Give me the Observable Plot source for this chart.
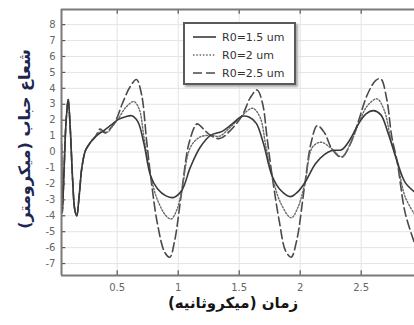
<!DOCTYPE html>
<html>
<head>
<meta charset="utf-8">
<script src="https://cdn.jsdelivr.net/npm/d3@7"></script>
<script src="https://cdn.jsdelivr.net/npm/@observablehq/plot@0.6"></script>
<style>
  html, body { margin: 0; padding: 0; background: #fff; }
  #wrap { position: relative; width: 414px; height: 325px; overflow: hidden; }
  #legend {
    position: absolute; left: 183px; top: 22px; width: 109px; height: 59px;
    border: 2px solid #5a5a5a; background: #fff; box-shadow: 2px 2px 2px #aaa;
    font-family: "DejaVu Sans", sans-serif; font-size: 11px; color: #333;
  }
  .row { position: absolute; left: 8px; height: 14px; display: flex; align-items: center; white-space: nowrap; }
  .row svg { margin-right: 6px; }
  .lbl { position: absolute; font-family: "DejaVu Sans", sans-serif; font-weight: bold; white-space: nowrap; }
  #xlab { left: 0; width: 414px; top: 294px; text-align: center; font-size: 15px; color: #151515; }
  #xlab span { position: relative; left: 26px; }
  #ylab { left: 24px; top: 139px; transform: translate(-50%, -50%) rotate(-90deg); font-size: 16px; color: #1c2650; }
</style>
</head>
<body>
<div id="wrap"></div>
<script>
// ---- data ----
const seriesNames = ["R0=1.5 um", "R0=2 um", "R0=2.5 um"];

const solidT = [0.043,0.05,0.065,0.08,0.098,0.115,0.135,0.152,0.168,0.19,0.21,0.24,0.28,0.32,0.39,0.45,0.51,0.57,0.62,0.67,0.72,0.774,0.83,0.9,0.964,1.03,1.1,1.18,1.265,1.36,1.44,1.525,1.58,1.64,1.7,1.77,1.84,1.92,1.98,2.04,2.125,2.2,2.26,2.34,2.41,2.48,2.54,2.6,2.66,2.72,2.795,2.86,2.937];
const solidR = [0.5,-3.8,-1.0,1.8,3.3,1.5,-1.8,-3.6,-4.0,-2.6,-1.0,0.1,0.6,0.95,1.35,1.7,2.05,2.22,2.28,1.9,0.5,-1.5,-2.3,-2.75,-2.85,-2.4,-0.95,0.3,1.05,1.3,1.75,2.25,2.2,1.8,0.5,-1.5,-2.4,-2.8,-2.5,-1.9,-0.74,-0.15,0.1,0.15,0.8,1.8,2.4,2.6,2.35,1.2,-0.6,-1.9,-2.5];

const dottedT = [0.043,0.05,0.065,0.08,0.098,0.115,0.135,0.152,0.168,0.19,0.21,0.24,0.28,0.32,0.37,0.42,0.46,0.51,0.57,0.636,0.68,0.72,0.774,0.83,0.9,0.943,0.99,1.03,1.1,1.18,1.265,1.34,1.42,1.525,1.61,1.67,1.72,1.77,1.84,1.926,1.98,2.04,2.1,2.17,2.26,2.34,2.41,2.48,2.55,2.63,2.69,2.74,2.795,2.86,2.937];
const dottedR = [0.5,-3.8,-1.0,1.8,3.3,1.5,-1.8,-3.6,-4.0,-2.6,-1.0,0.1,0.6,0.95,1.35,1.25,1.6,2.1,2.8,3.17,2.7,0.9,-1.5,-3.0,-4.0,-4.2,-3.6,-2.4,0.3,0.95,1.05,1.0,1.5,2.3,2.75,2.2,0.3,-1.5,-3.2,-4.13,-3.5,-1.9,0.3,0.62,0.2,-0.3,0.5,1.8,2.9,3.34,2.6,0.9,-0.6,-2.8,-3.9];

const dashedT = [0.043,0.05,0.065,0.08,0.098,0.115,0.135,0.152,0.168,0.19,0.21,0.24,0.28,0.32,0.36,0.40,0.44,0.49,0.54,0.606,0.658,0.7,0.74,0.774,0.83,0.89,0.931,0.97,1.03,1.09,1.155,1.2,1.265,1.34,1.42,1.525,1.59,1.647,1.69,1.73,1.77,1.83,1.88,1.926,1.97,2.04,2.09,2.14,2.2,2.26,2.34,2.41,2.48,2.55,2.62,2.66,2.71,2.75,2.795,2.86,2.937];
const dashedR = [0.5,-3.8,-1.0,1.8,3.3,1.5,-1.8,-3.6,-4.0,-2.6,-1.0,0.1,0.6,0.95,1.45,1.2,1.45,2.0,3.0,4.1,4.55,3.6,0.8,-1.5,-4.5,-6.3,-6.6,-5.6,-2.4,0.6,1.77,1.5,1.05,0.85,1.3,2.3,3.4,3.9,3.1,0.8,-1.5,-4.4,-6.2,-6.6,-5.6,-1.9,0.6,1.66,1.2,0.2,-0.33,0.5,2.0,3.6,4.5,4.6,3.3,1.0,-0.6,-3.8,-5.7];

const xTicks = [0.5, 1, 1.5, 2, 2.5];
const yTicks = [-7,-6,-5,-4,-3,-2,-1,0,1,2,3,4,5,6,7,8];
const xDomain = [0.0434, 2.937];
const yDomain = [-7.75, 8.95];
const xLabel = "زمان (میکروثانیه)";
const yLabel = "شعاع حباب (میکرومتر)";

// ---- build ----
const toRows = (T, R) => T.map((t, i) => ({t, r: R[i]}));
const solid = toRows(solidT, solidR);
const dotted = toRows(dottedT, dottedR);
const dashed = toRows(dashedT, dashedR);

const frameColor = "#7a7a7a";
const tickLenX = 0.035, tickLenY = 0.3;

const chart = Plot.plot({
  width: 414, height: 325,
  marginLeft: 61, marginRight: 0, marginTop: 9, marginBottom: 50,
  style: {background: "#fff", fontFamily: "DejaVu Sans, sans-serif"},
  x: {domain: xDomain},
  y: {domain: yDomain},
  marks: [
    Plot.ruleY(yTicks, {stroke: "#e4e4e4", strokeWidth: 1}),
    Plot.ruleX(xTicks, {stroke: "#e4e4e4", strokeWidth: 1}),
    Plot.line(dashed, {x: "t", y: "r", stroke: "#4a4a4a", strokeWidth: 1.6, strokeDasharray: "9,4", curve: "catmull-rom", clip: true}),
    Plot.line(dotted, {x: "t", y: "r", stroke: "#6a6a6a", strokeWidth: 1.4, strokeDasharray: "1.5,1.8", curve: "catmull-rom", clip: true}),
    Plot.line(solid, {x: "t", y: "r", stroke: "#3a3a3a", strokeWidth: 1.6, curve: "catmull-rom", clip: true}),
    // inward ticks
    Plot.ruleY(yTicks, {x1: xDomain[0], x2: xDomain[0] + tickLenX, stroke: "#555", strokeWidth: 1.2}),
    Plot.ruleX(xTicks, {y1: yDomain[0], y2: yDomain[0] + tickLenY, stroke: "#555", strokeWidth: 1.2}),
    Plot.ruleX(xTicks, {y1: yDomain[1], y2: yDomain[1] - tickLenY, stroke: "#555", strokeWidth: 1.2}),
    // frame (left, top, bottom)
    Plot.ruleX([xDomain[0]], {stroke: frameColor, strokeWidth: 2}),
    Plot.ruleY([yDomain[0], yDomain[1]], {stroke: frameColor, strokeWidth: 2}),
    Plot.axisY(yTicks, {tickSize: 0, tickPadding: 6, tickFormat: d => String(d), fontSize: 10, fill: "#666", label: null}),
    Plot.axisX(xTicks, {tickSize: 0, tickPadding: 8, tickFormat: d => String(d), fontSize: 10, fill: "#666", label: null})
  ]
});

const wrap = document.getElementById("wrap");
wrap.appendChild(chart);

// axis titles
const xl = document.createElement("div");
xl.id = "xlab"; xl.className = "lbl";
const xs = document.createElement("span");
xs.dir = "rtl"; xs.textContent = xLabel;
xl.appendChild(xs);
wrap.appendChild(xl);
const yl = document.createElement("div");
yl.id = "ylab"; yl.className = "lbl"; yl.dir = "rtl"; yl.textContent = yLabel;
wrap.appendChild(yl);

// legend
const legend = document.createElement("div");
legend.id = "legend";
const styles = [
  {stroke: "#3a3a3a", dash: null, w: 1.6},
  {stroke: "#6a6a6a", dash: "1.5,1.8", w: 1.4},
  {stroke: "#4a4a4a", dash: "9,4", w: 1.6}
];
seriesNames.forEach((name, i) => {
  const row = document.createElement("div");
  row.className = "row";
  row.style.top = (6 + i * 18) + "px";
  const s = styles[i];
  row.innerHTML = `<svg width="23" height="6"><line x1="0" y1="3" x2="23" y2="3" stroke="${s.stroke}" stroke-width="${s.w}" ${s.dash ? `stroke-dasharray="${s.dash}"` : ""}/></svg><span>${name}</span>`;
  legend.appendChild(row);
});
wrap.appendChild(legend);
</script>
</body>
</html>
